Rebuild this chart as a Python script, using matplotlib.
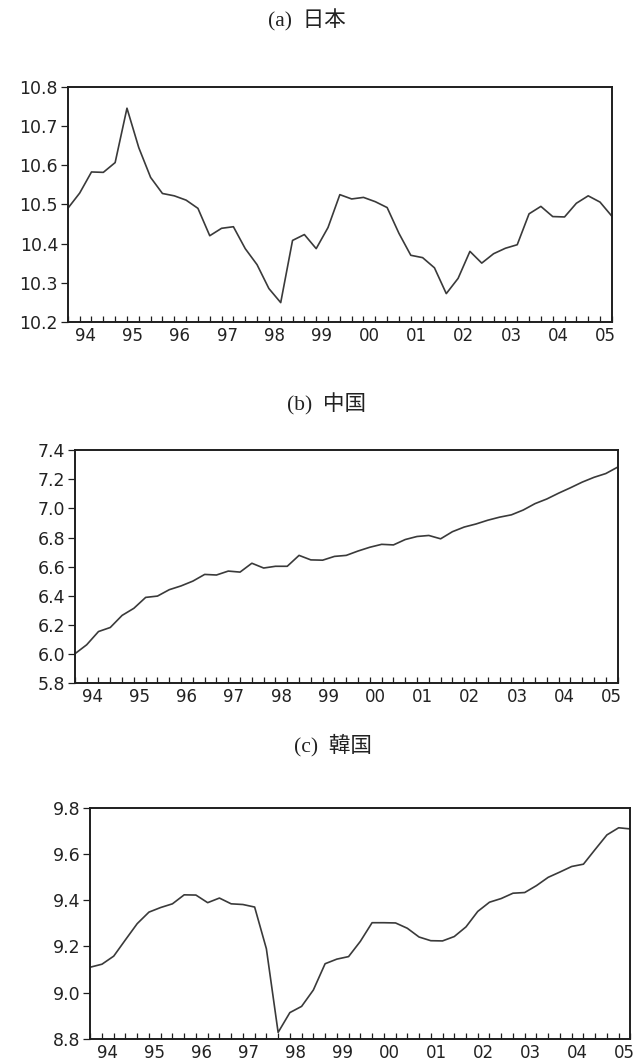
import numpy as np
import matplotlib
matplotlib.use("Agg")
import matplotlib.pyplot as plt

# quarterly series, 1994Q1 - 2005Q3
start_year = 1994
years = list(range(1994, 2006))
year_labels = ["94", "95", "96", "97", "98", "99", "00", "01", "02", "03", "04", "05"]

japan = [10.490, 10.529, 10.583, 10.582, 10.607, 10.746, 10.645, 10.569, 10.528, 10.522,
         10.511, 10.490, 10.420, 10.439, 10.443, 10.387, 10.346, 10.285, 10.249, 10.408,
         10.423, 10.387, 10.441, 10.525, 10.514, 10.518, 10.507, 10.492, 10.426, 10.370,
         10.364, 10.338, 10.272, 10.311, 10.380, 10.350, 10.374, 10.388, 10.397, 10.476,
         10.495, 10.469, 10.468, 10.503, 10.522, 10.506, 10.470]

china = [6.000, 6.062, 6.153, 6.181, 6.264, 6.313, 6.388, 6.397, 6.441, 6.467,
         6.500, 6.546, 6.542, 6.569, 6.562, 6.623, 6.590, 6.602, 6.602, 6.677,
         6.646, 6.644, 6.670, 6.677, 6.707, 6.733, 6.753, 6.749, 6.786, 6.807,
         6.814, 6.791, 6.840, 6.872, 6.893, 6.919, 6.940, 6.956, 6.989, 7.033,
         7.065, 7.105, 7.142, 7.181, 7.214, 7.240, 7.284]

korea = [9.110, 9.123, 9.158, 9.229, 9.299, 9.349, 9.369, 9.385, 9.424, 9.423,
         9.390, 9.410, 9.385, 9.382, 9.371, 9.190, 8.827, 8.913, 8.940, 9.011,
         9.125, 9.145, 9.156, 9.222, 9.303, 9.303, 9.302, 9.279, 9.241, 9.225,
         9.224, 9.243, 9.285, 9.352, 9.392, 9.408, 9.431, 9.434, 9.464, 9.500,
         9.523, 9.547, 9.557, 9.621, 9.684, 9.715, 9.710]

titles = ["(a)  日本", "(b)  中国", "(c)  韓国"]
series = [japan, china, korea]
yticks = [[10.2, 10.3, 10.4, 10.5, 10.6, 10.7, 10.8],
          [5.8, 6.0, 6.2, 6.4, 6.6, 6.8, 7.0, 7.2, 7.4],
          [8.8, 9.0, 9.2, 9.4, 9.6, 9.8]]

# layout (figure fractions)
axes_rects = [[0.106, 0.697, 0.850, 0.221],
              [0.117, 0.357, 0.848, 0.219],
              [0.141, 0.022, 0.844, 0.217]]
title_pos = [(0.480, 0.981), (0.510, 0.619), (0.520, 0.298)]

LINE = "#3a3a3a"
FRAME = "#1e1e1e"
TICKFONT = ["DejaVu Sans"]
TITLEFONT = ["Liberation Serif", "Noto Sans CJK JP"]

fig = plt.figure(figsize=(6.4, 10.62), dpi=100)

for k in range(3):
    vals = series[k]
    x = start_year + 0.25 * np.arange(len(vals))
    ax = fig.add_axes(axes_rects[k])
    ax.plot(x, vals, color=LINE, lw=1.2)
    ax.set_xlim(x[0], x[-1])
    ax.set_ylim(yticks[k][0], yticks[k][-1])

    # quarter ticks pointing into the box, year labels placed between them
    ax.set_xticks(x)
    ax.set_xticklabels([])
    ax.set_xticks([y + 0.37 for y in years], year_labels, minor=True)
    ax.tick_params(axis="x", which="major", direction="in", length=4, width=0.9,
                   color=FRAME)
    ax.tick_params(axis="x", which="minor", length=0, pad=4, labelsize=12,
                   labelcolor="#222222")

    ax.set_yticks(yticks[k], [f"{v:.1f}" for v in yticks[k]])
    ax.tick_params(axis="y", direction="out", length=5, width=0.9, color=FRAME,
                   labelsize=12.5, labelcolor="#222222", pad=2)

    for lab in ax.get_xticklabels(minor=True) + ax.get_yticklabels():
        lab.set_family(TICKFONT)

    for sp in ax.spines.values():
        sp.set_color(FRAME)
        sp.set_linewidth(1.4)

    fig.text(title_pos[k][0], title_pos[k][1], titles[k], ha="center", va="center",
             fontsize=15.5, family=TITLEFONT, color="#222222")

fig.savefig("out.png", dpi=100, facecolor="white")
